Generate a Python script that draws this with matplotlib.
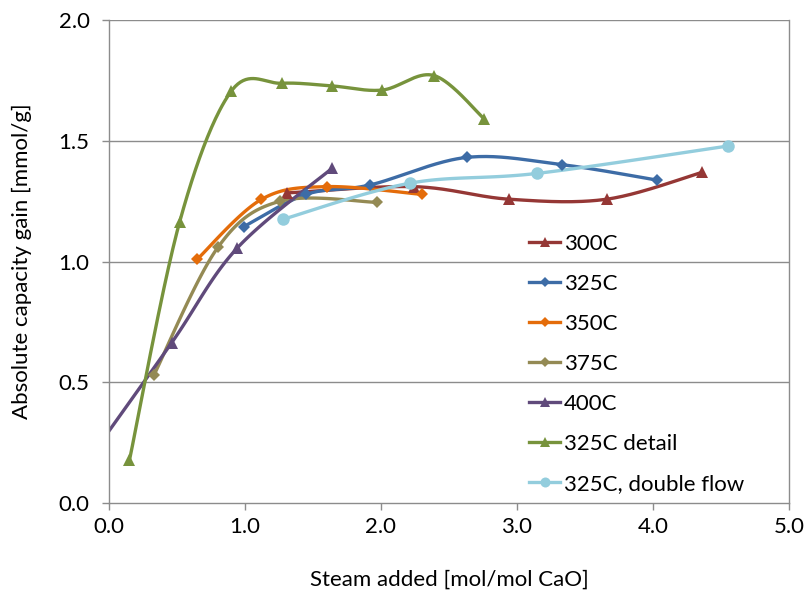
import numpy as np
import matplotlib
matplotlib.use('Agg')
import matplotlib.pyplot as plt
from matplotlib.lines import Line2D

plt.rcParams['font.family'] = ['Lato', 'DejaVu Sans']
fs = 16

# data
x_300 = [1.31, 2.24, 2.94, 3.66, 4.36]
y_300 = [1.284, 1.310, 1.258, 1.258, 1.369]

x_325 = [0.99, 1.45, 1.92, 2.63, 3.33, 4.03]
y_325 = [1.144, 1.278, 1.317, 1.431, 1.401, 1.337]

x_350 = [0.65, 1.12, 1.60, 2.30]
y_350 = [1.010, 1.257, 1.310, 1.278]

x_375 = [0.33, 0.80, 1.26, 1.97]
y_375 = [0.529, 1.058, 1.250, 1.245]

x_400 = [-0.15, 0.46, 0.94, 1.64]
y_400 = [0.180, 0.663, 1.054, 1.386]

x_det = [0.15, 0.52, 0.90, 1.27, 1.64, 2.01, 2.39, 2.76]
y_det = [0.176, 1.165, 1.706, 1.738, 1.727, 1.710, 1.770, 1.590]

x_dbl = [1.28, 2.21, 3.15, 4.55]
y_dbl = [1.175, 1.324, 1.365, 1.478]

labels = ['300C', '325C', '350C', '375C', '400C', '325C detail', '325C, double flow']
colors = ['#953735', '#3d6ca6', '#e46c0a', '#948a54', '#604a7b', '#77933c', '#93cddd']
markers = ['^', 'D', 'D', 'D', '^', '^', 'o']
msizes = [8.5, 6, 6, 6, 8.5, 8.5, 9]


def smooth(xs, ys, n=40):
    # excel-like smoothed line: bezier with catmull-rom control points
    p = np.column_stack([xs, ys]).astype(float)
    pts = np.vstack([p[0], p, p[-1]])
    out = []
    t = np.linspace(0, 1, n)[:, None]
    for i in range(1, len(pts) - 2):
        p0, p1, p2, p3 = pts[i - 1], pts[i], pts[i + 1], pts[i + 2]
        c1 = p1 + (p2 - p0) / 6.0
        c2 = p2 - (p3 - p1) / 6.0
        seg = ((1 - t) ** 3) * p1 + 3 * ((1 - t) ** 2) * t * c1 \
            + 3 * (1 - t) * t ** 2 * c2 + t ** 3 * p2
        out.append(seg)
    s = np.vstack(out)
    return s[:, 0], s[:, 1]


series = [(x_300, y_300), (x_325, y_325), (x_350, y_350), (x_375, y_375),
          (x_400, y_400), (x_det, y_det), (x_dbl, y_dbl)]

fig = plt.figure(figsize=(8.08, 6.0), dpi=100)
ax = fig.add_axes([109 / 808, 97 / 600, 680 / 808, 483 / 600])

grid_c = '#8c8c8c'
for yv in np.arange(0.5, 2.01, 0.5):
    ax.axhline(yv, color=grid_c, linewidth=1.0, zorder=0)

for (xs, ys), c, m, ms in zip(series, colors, markers, msizes):
    sx, sy = smooth(xs, ys)
    ax.plot(sx, sy, color=c, linewidth=2.4, solid_capstyle='round', zorder=2)
    ax.plot(xs, ys, linestyle='none', marker=m, color=c, markersize=ms,
            markeredgewidth=0, zorder=3)

ax.set_xlim(0, 5)
ax.set_ylim(0, 2)
ax.set_xticks(np.arange(0, 5.01, 1.0))
ax.set_yticks(np.arange(0, 2.01, 0.5))
ax.set_xticklabels(['%.1f' % v for v in np.arange(0, 5.01, 1.0)])
ax.set_yticklabels(['%.1f' % v for v in np.arange(0, 2.01, 0.5)])
ax.tick_params(direction='out', length=5, width=1, color=grid_c, labelsize=fs)
ax.tick_params(axis='y', pad=9)
ax.tick_params(axis='x', pad=5)
for side in ['left', 'bottom', 'right']:
    ax.spines[side].set_color(grid_c)
    ax.spines[side].set_linewidth(1.0)
ax.spines['top'].set_visible(False)

ax.set_xlabel('Steam added [mol/mol CaO]', fontsize=fs)
ax.set_ylabel('Absolute capacity gain [mmol/g]', fontsize=fs)
ax.xaxis.set_label_coords(0.5, -0.138)
ax.yaxis.set_label_coords(-0.113, 0.5)

handles = [Line2D([0], [0], color=c, linewidth=2.4, marker=m, markersize=ms * 0.8,
                  markeredgewidth=0, label=l)
           for c, m, ms, l in zip(colors, markers, msizes, labels)]
fig.legend(handles=handles, loc='upper left', bbox_to_anchor=(518 / 808, 377 / 600),
           frameon=False, borderpad=0, handlelength=1.4, handletextpad=0.15,
           labelspacing=0.9, fontsize=fs)

fig.savefig('out.png', dpi=100)
